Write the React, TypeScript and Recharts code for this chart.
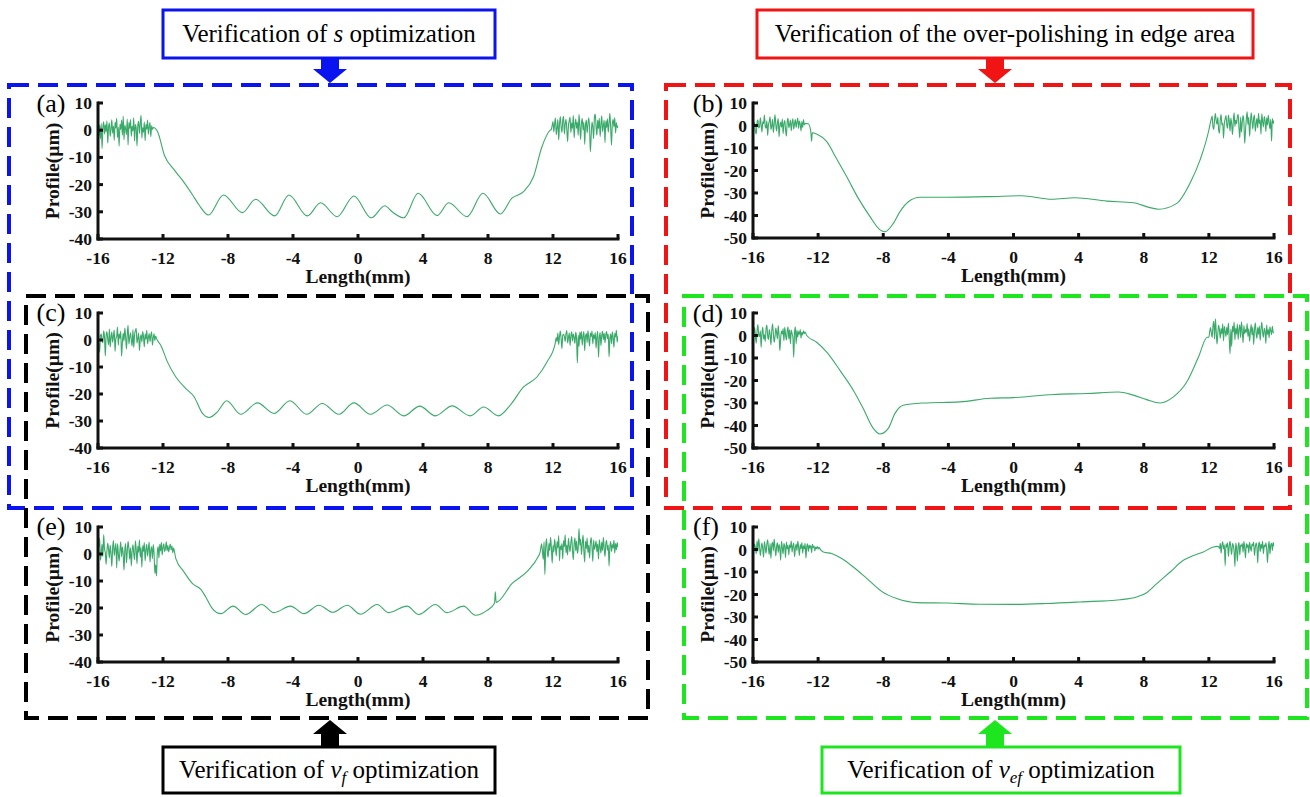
import type { FC, ReactNode } from "react";
import { Line, LineChart, XAxis, YAxis } from "recharts";

// sampling step of the profilometer trace in the rough (unpolished) zones, mm
const STEP = 0.05;

const lengthTicks = [-16, -12, -8, -4, 0, 4, 8, 12, 16];
const profileTicks40 = [-40, -30, -20, -10, 0, 10];
const profileTicks50 = [-50, -40, -30, -20, -10, 0, 10];

// (a) s optimization: rough zone from -16 mm, polished middle, rough zone from 11.9 mm
const aLeft = [
  0.5, -2.1, 1.8, -3.2, 2.4, -6.8, 0.9, 3.1, -1.4, 2.0, -0.6, 3.5, -4.8, 1.2, 2.6, -2.3, 0.4, 3.8, -1.1, 1.5,
  -3.7, 2.9, 0.7, 4.4, -2.7, 1.1, -5.9, 2.3, 0.2, 3.6, -1.8, 5.2, -3.5, 1.9, 0.5, -1.6, 4.1, -5.4, 2.8, 0.6,
  3.9, -2.2, 1.4, -0.3, 4.6, -4.0, 2.1, 0.8, -5.8, 1.7, 3.3, -1.2, 2.5, 5.5, -2.9, 1.0, -0.8, 3.0, -3.9, 2.2,
  0.4, 3.7, -1.5, 1.2, 2.8, -2.4, 1.6, 0.3, 1.0,
];
const aMid: [number, number][] = [
  [-12.33, -0.55], [-11.92, -9.1], [-11.31, -14.6], [-10.74, -18.9], [-10.18, -23.8], [-9.78, -27.5],
  [-9.2, -31.2], [-8.28, -23.8], [-7.12, -30.3], [-6.3, -25.4], [-5.13, -31.5], [-4.25, -23.8],
  [-3.12, -31.5], [-2.3, -26.7], [-1.28, -31.8], [-0.25, -24.2], [0.81, -32.2], [1.65, -27.8],
  [2.1, -30.0], [2.82, -32.2], [3.7, -23.2], [4.87, -31.4], [5.58, -26.7], [6.71, -31.8],
  [7.69, -23.2], [8.76, -30.8], [9.47, -25.0], [10.19, -22.6], [10.8, -17.1], [11.32, -6.1], [11.83, 0.0],
];
const aRight = [
  0.3, 1.8, 3.2, -0.6, 2.4, 4.5, -1.7, 0.8, 3.9, -3.6, 2.1, 5.0, 1.2, -0.8, 3.6, 5.1, -1.4, 2.2, 4.0, 0.2,
  -4.2, 1.6, 3.4, 4.8, -0.9, 2.7, 0.6, 5.5, -2.8, 1.9, 4.1, 0.7, 3.0, -1.9, 5.8, 1.5, -3.4, 2.6, 4.3, 0.1,
  2.9, -5.2, 1.8, 3.7, -1.0, 2.2, 4.6, 0.9, -7.9, -2.0, 3.0, 1.1, -3.1, 4.9, 5.9, 1.3, -1.8, 3.7, 0.6, 4.4,
  -2.3, 2.0, 5.3, -0.5, 1.7, 3.6, -4.6, 3.5, 1.0, 4.2, -0.7, 2.5, 6.2, 0.8, -5.5, 2.3, 3.9, 1.2, 4.6, -1.0,
  2.7, 0.9, 1.6,
];

// (b) over-polishing at the edge
const bLeft = [
  -1.5, 0.9, 1.2, -2.6, -3.8, 1.4, 2.5, -1.1, -0.6, 3.4, 0.3, -2.9, 1.7, 0.8, 4.6, -0.4, -1.2, 2.1, -4.4, 0.5,
  1.7, 3.9, -1.8, -0.3, 2.8, -3.1, 0.6, 4.8, 0.5, -2.4, 1.3, 3.1, -5.0, -0.2, 1.4, -0.8, 2.9, -3.6, 0.9, 2.2,
  -1.9, -4.7, 1.6, 3.2, -1.0, 0.4, 2.4, -2.3, 1.1, 3.0, -1.6, 0.7, 2.6, -0.9, 1.5, 3.3, -1.3, 2.0, 0.6, -2.4,
  1.8, -0.9, 2.7, 0.3, 0.9,
];
const bMid: [number, number][] = [
  [-12.6, 0.8], [-12.45, -2.6], [-12.4, -7.0], [-12.36, -3.2], [-12.09, -3.8], [-11.47, -7.2],
  [-10.88, -14.6], [-10.24, -22.8], [-9.53, -32.4], [-8.81, -40.5], [-8.2, -46.4], [-7.89, -47.2],
  [-7.38, -43.5], [-6.97, -38.3], [-6.46, -33.9], [-5.74, -31.9], [-4.1, -31.9], [-1.44, -31.6],
  [0.5, -31.2], [2.35, -32.8], [3.78, -32.1], [5.73, -33.6], [7.36, -34.3], [8.39, -36.5],
  [8.9, -37.2], [10.03, -34.6], [10.84, -25.7], [11.46, -15.3], [12.0, -2.0],
];
const bRight = [
  1.5, 3.0, 4.2, -0.5, -1.8, 2.7, 5.3, 1.9, 0.6, 3.7, -2.1, -3.4, 2.6, 4.9, 0.2, 1.1, -5.6, 0.9, 2.8, 4.4,
  0.3, -1.2, 4.6, 2.0, -2.5, 3.3, 0.8, -4.1, 1.9, 5.6, -0.4, 2.4, 0.8, 3.9, 5.0, -1.3, -5.5, 3.8, -3.0, 1.4,
  4.4, 1.6, -7.9, -2.2, 2.9, 6.1, 0.4, 3.6, -4.8, 1.0, 5.7, 2.0, -1.5, 3.3, 4.7, -2.6, 0.7, 3.1, -1.1, 5.4,
  0.9, 2.5, -3.9, 5.2, 1.8, -0.6, 4.0, 2.1, -2.7, 3.4, 0.3, 4.5, 1.2, -1.4, 2.8, -7.0, 3.1, 0.9, 2.2,
];

// (c) s optimization, second run
const cLeft = [
  0.8, -1.3, -4.5, 1.6, 2.2, -0.4, -1.0, 3.4, 1.1, -5.9, 1.6, 3.0, 0.2, -1.8, 4.1, -2.6, 0.9, 2.9, -0.8, 1.4,
  3.7, -4.2, 0.5, 1.3, 4.8, -1.9, 2.3, 0.6, 3.2, -6.0, -1.1, 2.5, -0.4, 4.4, 1.0, -3.3, 2.0, 5.4, -1.5, 0.8,
  2.7, 0.1, -2.2, 3.9, -2.8, 1.8, 3.5, 4.3, -1.2, 0.6, 2.6, -3.9, 0.4, 1.9, -0.7, 3.1, 1.2, -2.5, 2.2, 0.3,
  3.6, -1.4, 0.9, 2.4, -0.6, 1.7, 3.0, -1.9, 0.8, 2.3, -0.2, 1.5, 0.6,
];
const cMid: [number, number][] = [
  [-12.13, -2.0], [-11.72, -8.2], [-11.21, -13.7], [-10.59, -18.0], [-10.08, -21.1], [-9.57, -27.2],
  [-9.16, -28.7], [-8.65, -26.6], [-8.08, -22.5], [-7.22, -27.5], [-6.19, -23.3], [-5.17, -27.2],
  [-4.19, -22.5], [-3.16, -27.5], [-2.2, -23.5], [-1.18, -27.5], [-0.25, -23.3], [0.77, -27.5],
  [1.79, -24.1], [2.82, -28.1], [3.8, -24.5], [4.76, -28.1], [5.79, -24.4], [6.91, -28.1],
  [7.73, -24.8], [8.65, -28.1], [9.37, -24.1], [10.19, -17.4], [11.01, -13.7], [11.62, -8.2], [12.13, -1.4],
];
const cRight = [
  0.9, -0.6, 2.6, -1.7, 1.2, 3.3, 0.4, -3.2, 1.8, 2.1, 1.3, -0.6, 2.4, 3.5, -1.1, 0.8, 2.7, -2.0, 1.5, 3.0,
  -0.4, 2.2, 1.0, -1.3, 2.9, 0.5, -8.5, 1.8, -2.4, 2.9, 0.2, 3.1, -1.9, 1.4, 3.1, -4.0, 1.5, 2.4, -0.9, 3.4,
  0.7, -2.2, 2.6, 1.2, 3.3, -1.5, 2.0, 0.4, 2.8, -3.0, 1.3, 3.2, -6.4, 0.7, 2.8, -2.1, 1.6, 3.2, 0.2, 2.5,
  -1.0, 1.9, 3.1, 0.5, 2.2, -6.2, 0.5, 2.2, -1.4, 3.0, 0.9, -2.7, 2.5, 1.1, 3.6, -0.8, 1.4,
];

// (d) edge compensation
const dLeft = [
  -1.2, 1.4, 3.5, -0.8, -3.4, 2.2, 4.9, 0.3, -0.5, 2.1, -5.3, 1.0, 3.8, -1.6, 0.4, -2.6, 2.8, 4.6, -0.2, -1.8,
  2.7, 0.5, -4.1, 1.9, 5.2, 0.9, -3.0, -0.6, 3.3, 1.2, -1.4, 4.4, 0.2, -6.8, -1.1, 2.0, 0.6, 3.1, -2.3, 3.6,
  0.4, -2.0, 1.8, 3.9, -1.5, 2.5, -3.7, 2.4, 0.8, -0.7, -9.6, 1.1, 3.9, -3.7, 2.4, -0.7, 1.8, 0.5, 2.6, -1.2,
  1.4, 0.3, 2.1, 0.8, 1.5,
];
const dMid: [number, number][] = [
  [-12.7, 0.0], [-12.09, -3.0], [-11.47, -7.4], [-10.66, -15.5], [-9.84, -24.3], [-9.23, -32.4],
  [-8.61, -41.3], [-8.2, -43.8], [-7.69, -41.3], [-7.28, -34.6], [-6.77, -31.0], [-5.54, -30.0],
  [-3.29, -29.5], [-1.44, -27.9], [-0.01, -27.6], [2.45, -26.2], [4.5, -25.8], [6.44, -25.1],
  [7.36, -26.5], [8.18, -28.5], [9.0, -30.0], [9.82, -27.3], [10.64, -20.7], [11.36, -9.6], [11.9, -0.75],
];
const dRight = [
  -0.8, 1.6, 3.5, 1.2, -0.9, 4.1, 6.3, -1.6, 7.4, 2.0, -3.8, 0.9, 4.5, 2.4, -1.2, 3.1, 0.7, 5.2, -2.4, 4.0,
  1.8, -0.5, 3.6, 0.4, 5.5, -1.1, -8.1, 2.9, -4.9, 4.2, 1.5, 6.0, -2.0, 3.3, 0.6, 5.1, -1.7, 2.6, 4.8, -0.9,
  6.1, 1.9, -3.2, 4.4, 0.8, 2.7, 1.4, 5.3, -0.4, 3.0, -2.6, 1.7, 4.9, 0.2, 3.8, -4.0, 2.3, 5.6, 1.0, -1.3,
  3.5, 0.6, 4.2, -2.1, 2.8, 5.9, 1.4, -0.8, 3.2, 1.9, -3.5, 4.7, 0.5, 2.6, -1.0, 3.9, 2.2, 0.4, 4.1, 1.3,
  1.4,
];

// (e) vf optimization
const eLeft = [
  1.2, 3.1, 5.8, -2.3, 0.4, 3.6, -0.9, 7.2, 2.0, 0.4, -3.8, 1.2, 4.1, 1.6, -1.4, 3.3, 0.2, -4.6, 2.2, 5.0,
  -0.6, 1.9, 4.0, -5.2, 3.8, 0.3, -2.7, 1.4, 4.5, -1.0, 2.6, 0.1, -6.0, 1.4, 3.9, -3.3, 0.8, 4.7, 2.1, -1.9,
  2.3, -4.4, 1.0, 3.4, 0.2, -2.1, 4.9, 1.7, -3.6, 2.9, 0.6, 5.3, -1.2, 2.4, -4.9, 3.1, 0.9, 4.2, -2.5, 1.5,
  3.6, -0.8, 2.0, 4.4, -3.0, 1.3, 2.7, -1.7, 3.5, 0.4, -7.2, -4.0, -8.1, 0.6, 2.8, -1.5, 3.6, 1.1, 4.3, -0.3,
  2.5, 3.8, 0.9, 2.0, 4.5, 1.2, 3.1, 0.8, 2.4, 3.7, 1.6, 2.9, 0.5, 2.2, 1.0,
];
const eMid: [number, number][] = [
  [-11.21, -1.7], [-10.7, -6.7], [-10.18, -11.0], [-9.67, -13.1], [-9.37, -15.9], [-8.96, -20.2],
  [-8.44, -22.1], [-7.69, -19.3], [-6.91, -22.4], [-5.93, -18.7], [-5.17, -21.7], [-4.15, -19.3],
  [-3.33, -22.1], [-2.41, -19.0], [-1.55, -21.6], [-0.66, -19.0], [0.15, -22.3], [1.18, -18.7],
  [1.89, -21.7], [3.02, -19.3], [3.74, -22.4], [4.76, -18.7], [5.48, -21.7], [6.5, -19.3],
  [7.22, -22.7], [7.94, -20.9], [8.4, -18.2], [8.45, -14.0], [8.5, -17.9], [9.47, -11.0],
  [10.49, -6.0], [11.1, -0.8],
];
const eRight = [
  0.5, 2.2, 3.8, 0.9, -2.0, 4.5, -7.6, 2.5, 5.6, 0.8, -1.2, 4.0, 1.3, 6.2, 2.4, -3.4, 3.1, 0.8, 5.4, 2.6,
  -0.7, 4.6, 2.2, 6.8, -2.5, 3.0, 1.6, 3.9, -1.8, 5.0, 2.7, 7.1, 0.4, 3.3, -0.4, 5.8, 2.9, 0.9, 4.2, 6.5,
  1.5, -2.1, 3.6, 6.0, 1.2, 4.8, 0.3, 2.0, 9.4, 3.2, 5.5, -0.2, 3.6, 7.0, 1.1, -3.0, 4.7, 2.0, 5.9, 0.6,
  3.2, -1.5, 4.0, 6.1, 2.4, -2.8, 5.2, 1.7, 3.0, 4.9, 0.8, 3.7, -1.9, 5.3, 2.6, 0.4, 4.4, 1.3, 6.2, 2.1,
  -0.9, 3.8, 5.0, 1.4, 3.3, -4.4, 2.7, 4.6, 0.9, 3.5, 2.2, 5.1, 0.3, 3.9, 1.6, 4.2, 2.5,
];

// (f) vef optimization
const fLeft = [
  -1.0, 1.1, 2.4, 0.6, -1.9, 3.9, -0.8, 4.8, 1.5, -2.6, 0.3, 2.9, 0.2, -3.4, 3.5, 1.1, -1.7, 2.3, 4.3, 0.5,
  -2.2, 2.6, -4.0, 1.8, 3.2, -0.6, 4.6, 0.8, -2.9, 1.4, 3.0, -1.3, 2.2, 0.4, -4.8, 3.7, 0.9, -2.0, 2.7, 1.2,
  -3.6, 3.3, 0.3, 1.9, -2.4, 2.1, 0.7, 3.8, -1.1, 1.5, 2.9, -3.2, 0.6, 2.4, -0.5, 3.6, 1.0, -2.7, 2.2, 0.4,
  3.1, -1.6, 1.7, 0.2, 2.8, -3.8, 1.3, 2.5, -0.9, 2.0, 0.6, 1.8, -1.4, 2.3, 0.8, 1.5, -0.6, 1.1, 0.4, 1.3,
  0.2, 1.0, 0.4,
];
const fMid: [number, number][] = [
  [-11.68, -1.1], [-11.17, -1.8], [-10.55, -4.0], [-9.84, -7.8], [-9.02, -12.8], [-8.1, -18.6],
  [-7.17, -21.8], [-5.94, -23.6], [-4.1, -23.8], [-2.06, -24.3], [-0.01, -24.4], [2.04, -24.0],
  [4.09, -23.3], [6.55, -22.3], [7.57, -21.1], [8.18, -19.2], [8.8, -15.2], [9.62, -10.0],
  [10.43, -4.8], [10.84, -3.3], [11.66, -1.1], [12.27, 1.1], [12.5, 1.4],
];
const fRight = [
  1.2, 0.4, 2.8, -1.6, 1.9, 3.4, 0.2, 2.1, -7.2, 2.5, 1.0, 3.0, -3.1, 1.4, 3.7, 0.5, -2.2, 2.6, 1.8, -0.9,
  -7.5, 2.9, 0.6, -5.2, 1.5, 3.1, -2.4, 2.0, 1.5, 2.6, -1.2, 3.5, 0.8, -3.8, 2.7, 0.9, 2.2, -1.5, 3.2, 1.1,
  -0.7, 2.4, 1.6, 3.3, -2.6, 0.8, 2.9, 1.2, -6.0, 1.7, 3.3, -1.0, 2.4, 0.5, 3.6, -1.9, 2.0, 1.1, 3.0, 0.3,
  -5.8, 0.8, 3.6, -2.0, 1.9, 2.8, -0.4, 3.1, 1.5,
];

type Pt = { x: number; y: number };

function buildProfile(left: number[], mid: [number, number][], rightStart: number, right: number[]): Pt[] {
  const pts: Pt[] = [];
  left.forEach((y, i) => pts.push({ x: +(-16 + i * STEP).toFixed(3), y }));
  mid.forEach(([x, y]) => pts.push({ x, y }));
  right.forEach((y, i) => pts.push({ x: +(rightStart + i * STEP).toFixed(3), y }));
  return pts;
}

const SERIF = '"Liberation Serif", "Times New Roman", serif';
const INK = "#111";
const TRACE = "#3aaa6a";
const TICK_LEN = 5;
const TICK_FONT = 17.5;
const TITLE_FONT = 19.5;

const tickText = { fontFamily: SERIF, fontWeight: 700, fontSize: `${TICK_FONT}px` };
const titleText = { fontFamily: SERIF, fontWeight: 700, fontSize: `${TITLE_FONT}px` };

const BottomTick = (p: any) => (
  <g>
    <line x1={p.x} x2={p.x} y1={p.y} y2={p.y - TICK_LEN} stroke={INK} strokeWidth={3} />
    <text x={p.x} y={p.y + 25} textAnchor="middle" fill={INK} style={tickText}>
      {p.payload.value}
    </text>
  </g>
);

const TopTick = (p: any) => (
  <line x1={p.x} x2={p.x} y1={p.y} y2={p.y + TICK_LEN} stroke={INK} strokeWidth={3} />
);

const LeftTick = (p: any) => (
  <g>
    <line x1={p.x} x2={p.x + TICK_LEN} y1={p.y} y2={p.y} stroke={INK} strokeWidth={3} />
    <text x={p.x - 6} y={p.y + 6} textAnchor="end" fill={INK} style={tickText}>
      {p.payload.value}
    </text>
  </g>
);

const RightTick = (p: any) => (
  <line x1={p.x} x2={p.x - TICK_LEN} y1={p.y} y2={p.y} stroke={INK} strokeWidth={3} />
);

const frameLine = { stroke: INK, strokeWidth: 3, strokeLinecap: "square" as const };

type PanelProps = {
  data: Pt[];
  yDomain: [number, number];
  yTicks: number[];
  left: number;
  top: number;
  width: number;
  height: number;
};

const ProfilePanel: FC<PanelProps> = ({ data, yDomain, yTicks, left, top, width, height }) => (
  <div style={{ position: "absolute", left, top, width, height }}>
    <LineChart width={width} height={height} data={data} margin={{ top: 10, right: 10, bottom: 0, left: 0 }}>
      <XAxis
        xAxisId="b"
        dataKey="x"
        type="number"
        domain={[-16, 16]}
        ticks={lengthTicks}
        interval={0}
        allowDataOverflow
        height={50}
        tickSize={0}
        tickMargin={0}
        tickLine={false}
        axisLine={frameLine}
        tick={(p: any) => <BottomTick {...p} />}
        label={{
          value: "Length(mm)",
          position: "insideBottom",
          offset: 6,
          fill: INK,
          fontSize: TITLE_FONT,
          style: titleText,
        }}
      />
      <XAxis
        xAxisId="t"
        orientation="top"
        type="number"
        domain={[-16, 16]}
        ticks={lengthTicks}
        interval={0}
        allowDataOverflow
        height={0}
        tickSize={0}
        tickMargin={0}
        tickLine={false}
        axisLine={frameLine}
        tick={(p: any) => <TopTick {...p} />}
      />
      <YAxis
        yAxisId="l"
        type="number"
        domain={yDomain}
        ticks={yTicks}
        interval={0}
        allowDataOverflow
        width={60}
        tickSize={0}
        tickMargin={0}
        tickLine={false}
        axisLine={frameLine}
        tick={(p: any) => <LeftTick {...p} />}
        label={{
          value: "Profile(\u00b5m)",
          angle: -90,
          position: "insideLeft",
          offset: 14,
          fill: INK,
          fontSize: TITLE_FONT,
          style: { ...titleText, textAnchor: "middle" },
        }}
      />
      <YAxis
        yAxisId="r"
        orientation="right"
        type="number"
        domain={yDomain}
        ticks={yTicks}
        interval={0}
        allowDataOverflow
        width={0}
        tickSize={0}
        tickMargin={0}
        tickLine={false}
        axisLine={frameLine}
        tick={(p: any) => <RightTick {...p} />}
      />
      <Line
        xAxisId="b"
        yAxisId="l"
        type="monotone"
        dataKey="y"
        stroke={TRACE}
        strokeWidth={1.1}
        dot={false}
        activeDot={false}
        isAnimationActive={false}
      />
    </LineChart>
  </div>
);

const panels = [
  { key: "a", data: buildProfile(aLeft, aMid, 11.9, aRight), yDomain: [-40, 10] as [number, number], yTicks: profileTicks40, left: 38, top: 93, width: 590, height: 196 },
  { key: "b", data: buildProfile(bLeft, bMid, 12.1, bRight), yDomain: [-50, 10] as [number, number], yTicks: profileTicks50, left: 693, top: 93, width: 591, height: 195 },
  { key: "c", data: buildProfile(cLeft, cMid, 12.2, cRight), yDomain: [-40, 10] as [number, number], yTicks: profileTicks40, left: 38, top: 303, width: 590, height: 195 },
  { key: "d", data: buildProfile(dLeft, dMid, 12.0, dRight), yDomain: [-50, 10] as [number, number], yTicks: profileTicks50, left: 693, top: 303, width: 591, height: 195 },
  { key: "e", data: buildProfile(eLeft, eMid, 11.2, eRight), yDomain: [-40, 10] as [number, number], yTicks: profileTicks40, left: 38, top: 517, width: 590, height: 195 },
  { key: "f", data: buildProfile(fLeft, fMid, 12.6, fRight), yDomain: [-50, 10] as [number, number], yTicks: profileTicks50, left: 693, top: 517, width: 591, height: 195 },
];

const panelLetters = [
  { text: "(a)", x: 51, y: 112 },
  { text: "(b)", x: 708, y: 112 },
  { text: "(c)", x: 51, y: 321 },
  { text: "(d)", x: 708, y: 322 },
  { text: "(e)", x: 51, y: 535 },
  { text: "(f)", x: 706, y: 535 },
];

const BLUE = "#0a14f0";
const RED = "#f01414";
const BLACK = "#000000";
const LIME = "#1ee61e";

const downArrow = (cx: number) =>
  `${cx - 9},59 ${cx + 9},59 ${cx + 9},69 ${cx + 17},69 ${cx},83 ${cx - 17},69 ${cx - 9},69`;
const upArrow = (cx: number) =>
  `${cx - 9},747 ${cx + 9},747 ${cx + 9},734 ${cx + 17},734 ${cx},720 ${cx - 17},734 ${cx - 9},734`;

const TitleBox: FC<{ x: number; y: number; w: number; h: number; color: string; children: ReactNode }> = ({ x, y, w, h, color, children }) => (
  <g>
    <rect x={x} y={y} width={w} height={h} fill="#fff" stroke={color} strokeWidth={3} />
    <text x={x + w / 2} y={y + h / 2 + 8} textAnchor="middle" fontFamily={SERIF} fontSize={25} fill="#000">
      {children}
    </text>
  </g>
);

export default function App() {
  return (
    <div style={{ position: "absolute", left: 0, top: 0, width: 1310, height: 797, background: "#fff", overflow: "hidden" }}>
      {panels.map(({ key, ...rest }) => (
        <ProfilePanel key={key} {...rest} />
      ))}
      <svg width={1310} height={797} style={{ position: "absolute", left: 0, top: 0, pointerEvents: "none" }}>
        {/* grouping frames */}
        <rect x={9} y={85} width={623} height={423} fill="none" stroke={BLUE} strokeWidth={4} strokeDasharray="20 9" />
        <rect x={26} y={296} width={622} height={422} fill="none" stroke={BLACK} strokeWidth={4} strokeDasharray="20 9" />
        <rect x={666} y={85} width={624} height={423} fill="none" stroke={RED} strokeWidth={4} strokeDasharray="20 9" />
        <rect x={684} y={296} width={623} height={422} fill="none" stroke={LIME} strokeWidth={4} strokeDasharray="20 9" />

        {panelLetters.map((l) => (
          <text key={l.text} x={l.x} y={l.y} textAnchor="middle" fontFamily={SERIF} fontSize={26} fill="#000">
            {l.text}
          </text>
        ))}

        <polygon points={downArrow(330)} fill={BLUE} />
        <polygon points={downArrow(995)} fill={RED} />
        <polygon points={upArrow(330)} fill={BLACK} />
        <polygon points={upArrow(995)} fill={LIME} />

        <TitleBox x={163} y={10} w={332} h={48} color={BLUE}>
          Verification of <tspan fontStyle="italic">s</tspan> optimization
        </TitleBox>
        <TitleBox x={757} y={10} w={496} h={48} color={RED}>
          Verification of the over-polishing in edge area
        </TitleBox>
        <TitleBox x={163} y={747} w={332} h={46} color={BLACK}>
          Verification of <tspan fontStyle="italic">v</tspan>
          <tspan fontStyle="italic" fontSize={17} dy={5}>f</tspan>
          <tspan dy={-5}> optimization</tspan>
        </TitleBox>
        <TitleBox x={822} y={747} w={358} h={46} color={LIME}>
          Verification of <tspan fontStyle="italic">v</tspan>
          <tspan fontStyle="italic" fontSize={17} dy={5}>ef</tspan>
          <tspan dy={-5}> optimization</tspan>
        </TitleBox>
      </svg>
    </div>
  );
}
